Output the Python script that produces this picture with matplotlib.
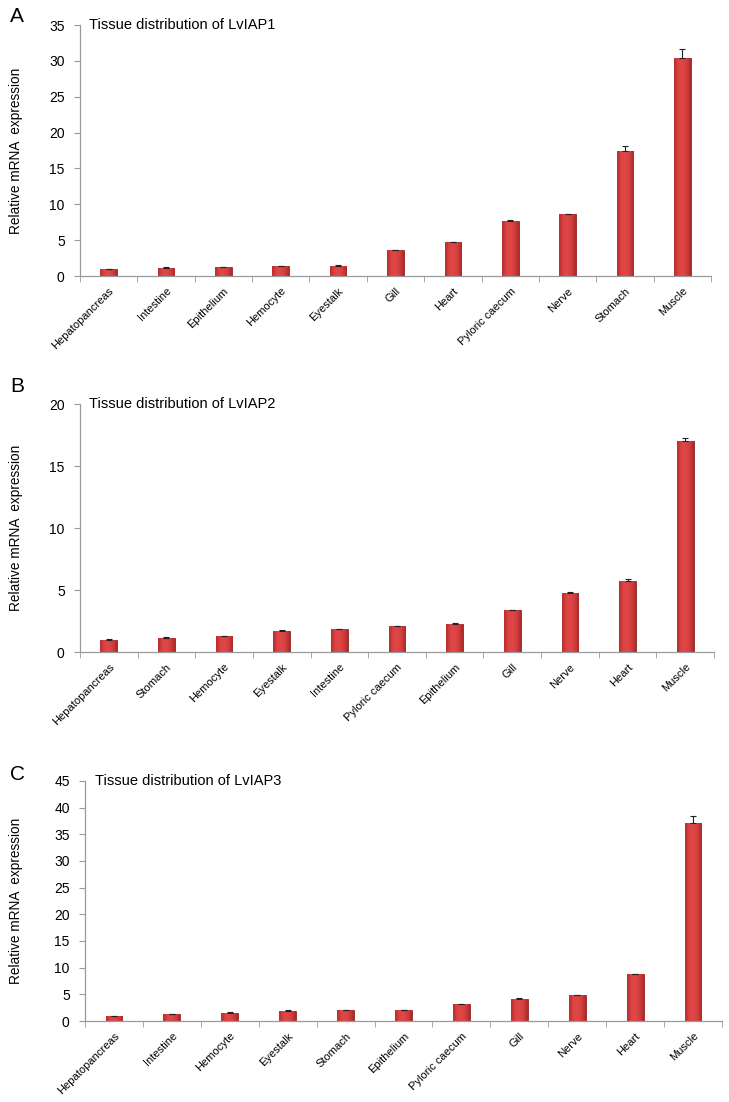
import numpy as np
import matplotlib
matplotlib.use('Agg')
import matplotlib.pyplot as plt
from matplotlib.colors import LinearSegmentedColormap

plt.rcParams['font.family'] = ['Liberation Sans', 'DejaVu Sans']

# panel A - LvIAP1
tissues_a = ['Hepatopancreas', 'Intestine', 'Epithelium', 'Hemocyte', 'Eyestalk', 'Gill',
             'Heart', 'Pyloric caecum', 'Nerve', 'Stomach', 'Muscle']
vals_a = [1.0, 1.15, 1.25, 1.35, 1.45, 3.6, 4.7, 7.7, 8.6, 17.5, 30.4]
err_a = [0.05, 0.05, 0.05, 0.05, 0.05, 0.05, 0.05, 0.1, 0.1, 0.7, 1.2]

# panel B - LvIAP2
tissues_b = ['Hepatopancreas', 'Stomach', 'Hemocyte', 'Eyestalk', 'Intestine', 'Pyloric caecum',
             'Epithelium', 'Gill', 'Nerve', 'Heart', 'Muscle']
vals_b = [1.0, 1.15, 1.3, 1.7, 1.85, 2.1, 2.3, 3.4, 4.8, 5.75, 17.05]
err_b = [0.03, 0.03, 0.03, 0.08, 0.03, 0.04, 0.03, 0.03, 0.06, 0.17, 0.2]

# panel C - LvIAP3
tissues_c = ['Hepatopancreas', 'Intestine', 'Hemocyte', 'Eyestalk', 'Stomach', 'Epithelium',
             'Pyloric caecum', 'Gill', 'Nerve', 'Heart', 'Muscle']
vals_c = [0.95, 1.3, 1.45, 1.9, 2.0, 2.05, 3.1, 4.1, 4.8, 8.75, 37.1]
err_c = [0.08, 0.08, 0.15, 0.2, 0.08, 0.08, 0.1, 0.25, 0.08, 0.15, 1.25]

panels = [
    ('A', 'Tissue distribution of LvIAP1', tissues_a, vals_a, err_a, 35, 5,
     [0.1097, 0.7495, 0.8656, 0.2278], 17),
    ('B', 'Tissue distribution of LvIAP2', tissues_b, vals_b, err_b, 20, 5,
     [0.1097, 0.4083, 0.8697, 0.2250], 387),
    ('C', 'Tissue distribution of LvIAP3', tissues_c, vals_c, err_c, 45, 5,
     [0.1166, 0.0735, 0.8738, 0.2178], 775),
]

fig = plt.figure(figsize=(7.29, 11.02), dpi=100)
gray = '#9a9a9a'
# bar shading: a bit darker at the sides, lighter in the middle
shade = LinearSegmentedColormap.from_list('shade', ['#b52e2e', '#dc4343', '#e04747', '#d23e3e', '#ab2a2a'])
grad = np.linspace(0, 1, 64).reshape(1, -1)

for letter, title, names, vals, errs, ymax, step, pos, ly in panels:
    ax = fig.add_axes(pos)
    x = np.arange(len(names))
    bars = ax.bar(x, vals, width=0.29, color='#d63f3f', edgecolor='#8e2424', linewidth=0.6,
                  zorder=2)
    for b in bars:
        im = ax.imshow(grad, cmap=shade, aspect='auto', zorder=2.5,
                       extent=[b.get_x(), b.get_x() + b.get_width(), 0, b.get_height()])
        im.set_clip_path(b)
    ax.errorbar(x, vals, yerr=[np.zeros(len(errs)), errs], fmt='none', ecolor='#222222',
                elinewidth=0.8, capsize=2.5, capthick=0.8, zorder=3)
    ax.set_xlim(-0.5, len(names) - 0.5)
    ax.set_ylim(0, ymax)
    ax.set_yticks(np.arange(0, ymax + 1, step))
    ax.set_xticks(x)
    ax.set_xticklabels(names, rotation=45, ha='right', rotation_mode='anchor', fontsize=8)
    ax.set_xticks(np.arange(-0.5, len(names), 1), minor=True)
    ax.tick_params(axis='x', which='major', length=0, pad=7)
    ax.tick_params(axis='x', which='minor', length=4, color=gray, direction='out')
    ax.tick_params(axis='y', length=4, color=gray, labelsize=10, pad=7)
    for s in ['top', 'right']:
        ax.spines[s].set_visible(False)
    for s in ['left', 'bottom']:
        ax.spines[s].set_color(gray)
        ax.spines[s].set_linewidth(0.9)
    ax.set_ylabel('Relative mRNA  expression', fontsize=9.8)
    ax.yaxis.set_label_coords(-0.09 if letter != 'C' else -0.097, 0.5)
    ax.text(0.015, 1.0, title, transform=ax.transAxes, fontsize=10.5, va='center', ha='left')
    fig.text(10 / 729, 1 - ly / 1102, letter, fontsize=15, va='center', ha='left')

plt.savefig('out.png', dpi=100)
